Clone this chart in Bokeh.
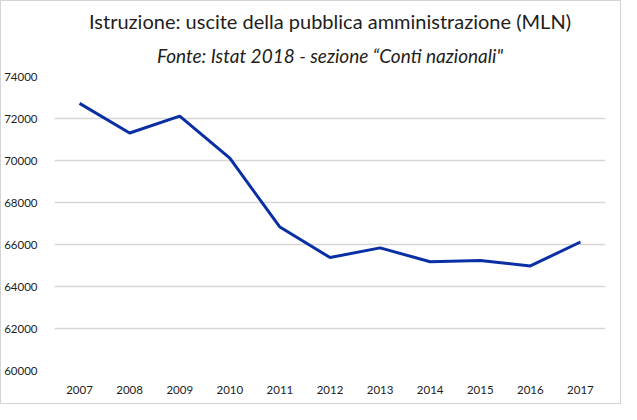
from bokeh.plotting import figure
from bokeh.models import ColumnDataSource, Range1d, FixedTicker, Title
from bokeh.embed import file_html
from bokeh.resources import INLINE

years = ["2007", "2008", "2009", "2010", "2011", "2012",
         "2013", "2014", "2015", "2016", "2017"]
spesa = [72720, 71310, 72110, 70110, 66830, 65380,
         65840, 65180, 65240, 64980, 66120]
y_ticks = [60000, 62000, 64000, 66000, 68000, 70000, 72000, 74000]

FONT = "Lato"
TXT = "#231d1b"

source = ColumnDataSource(dict(year=years, value=spesa))

p = figure(width=621, height=404, x_range=years, y_range=Range1d(60000, 74000),
           title=None, toolbar_location=None, output_backend="svg",
           min_border_left=52, min_border_right=17, min_border_top=75,
           min_border_bottom=35)
p.outline_line_color = None
p.border_fill_color = "white"
p.background_fill_color = "white"
p.styles = {"border": "1px solid #d4d4d4"}

# subtitle first, main title on top
p.add_layout(Title(text="Fonte: Istat 2018 - sezione \u201cConti nazionali\"",
                   text_font=FONT, text_font_size="19px", text_font_style="italic",
                   text_color=TXT, align="center", standoff=20), "above")
p.add_layout(Title(text="Istruzione: uscite della pubblica amministrazione (MLN)",
                   text_font=FONT, text_font_size="20px", text_font_style="normal",
                   text_color=TXT, align="center", standoff=-2), "above")

p.line("year", "value", source=source, line_width=3, color="#0a2fa5")

p.xgrid.grid_line_color = None
p.ygrid.grid_line_color = "#d6d6d6"
p.ygrid.grid_line_width = 1.5
p.yaxis.ticker = FixedTicker(ticks=y_ticks)

for ax in (p.xaxis, p.yaxis):
    ax.axis_line_color = None
    ax.major_tick_line_color = None
    ax.minor_tick_line_color = None
    ax.major_label_text_font = FONT
    ax.major_label_text_font_size = "11.5px"
    ax.major_label_text_color = TXT
p.yaxis.major_label_standoff = 11
p.xaxis.major_label_standoff = 9

open("out.html", "w").write(file_html(p, INLINE))
